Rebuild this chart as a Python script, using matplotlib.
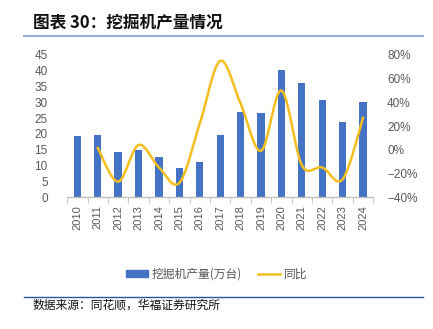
import numpy as np
import matplotlib
matplotlib.use('Agg')
import matplotlib.pyplot as plt
from matplotlib.ticker import FuncFormatter, FixedLocator
from matplotlib.patches import Patch
from matplotlib.lines import Line2D

plt.rcParams['font.family'] = ['Liberation Sans', 'Noto Sans CJK SC', 'DejaVu Sans']
plt.rcParams['axes.unicode_minus'] = True

# 数据
years = ['2010', '2011', '2012', '2013', '2014', '2015', '2016', '2017',
         '2018', '2019', '2020', '2021', '2022', '2023', '2024']
output = [19.3, 19.6, 14.3, 14.9, 12.7, 9.3, 11.0, 19.5,
          26.9, 26.6, 40.1, 36.2, 30.8, 23.8, 30.0]
yoy = [None, 1.5, -27.0, 4.0, -15.0, -28.0, 22.0, 75.0,
       39.0, -1.0, 50.0, -13.0, -15.0, -25.0, 27.0]

bar_color = '#4472C4'
line_color = '#F4BE1E'
gray = '#595959'


def catmull_rom(xs, ys, n=20):
    # Excel 风格的平滑曲线
    px = [xs[0]] + list(xs) + [xs[-1]]
    py = [ys[0]] + list(ys) + [ys[-1]]
    outx, outy = [], []
    for i in range(1, len(px) - 2):
        t = np.linspace(0, 1, n, endpoint=False)
        for p, o in ((px, outx), (py, outy)):
            p0, p1, p2, p3 = p[i - 1], p[i], p[i + 1], p[i + 2]
            o.extend(0.5 * ((2 * p1) + (-p0 + p2) * t
                            + (2 * p0 - 5 * p1 + 4 * p2 - p3) * t ** 2
                            + (-p0 + 3 * p1 - 3 * p2 + p3) * t ** 3))
    outx.append(xs[-1])
    outy.append(ys[-1])
    return outx, outy


fig = plt.figure(figsize=(4.33, 3.29), dpi=100)
ax1 = fig.add_axes([0.155, 0.401, 0.707, 0.432])

x = np.arange(len(years))
ax1.bar(x, output, width=0.36, color=bar_color, zorder=2)
ax1.set_xlim(-0.5, len(years) - 0.5)
ax1.set_ylim(0, 45)
ax1.set_yticks(range(0, 46, 5))

for s in ['top', 'right', 'left']:
    ax1.spines[s].set_visible(False)
ax1.spines['bottom'].set_color('#BFBFBF')
ax1.spines['bottom'].set_linewidth(1.0)

ax1.set_xticks(x)
ax1.set_xticklabels(years, rotation=90)
ax1.xaxis.set_minor_locator(FixedLocator(np.arange(-0.5, len(years), 1)))
ax1.tick_params(axis='x', which='major', length=0, pad=6, labelsize=8, labelcolor=gray)
ax1.tick_params(axis='x', which='minor', length=4, color='#BFBFBF', direction='out')
ax1.tick_params(axis='y', length=0, labelsize=8.5, labelcolor=gray, pad=14)

ax2 = ax1.twinx()
xi = [i for i, v in enumerate(yoy) if v is not None]
yi = [v for v in yoy if v is not None]
sx, sy = catmull_rom(xi, yi)
ax2.plot(sx, sy, color=line_color, linewidth=1.8, zorder=3)
ax2.set_ylim(-40, 80)
ax2.set_yticks(range(-40, 81, 20))
ax2.yaxis.set_major_formatter(FuncFormatter(lambda v, p: f'{v:.0f}%'.replace('-', '\u2212')))
ax2.tick_params(axis='y', length=0, labelsize=8.5, labelcolor=gray, pad=10)
for s in ['top', 'right', 'left', 'bottom']:
    ax2.spines[s].set_visible(False)

# 图例
handles = [Patch(color=bar_color), Line2D([0], [0], color=line_color, lw=1.8)]
fig.legend(handles, ['挖掘机产量(万台)', '同比'], loc='center', bbox_to_anchor=(0.5, 0.167),
           ncol=2, frameon=False, handlelength=1.9, handleheight=0.5,
           columnspacing=1.3, handletextpad=0.3, labelcolor=gray,
           prop={'family': ['Noto Sans CJK SC'], 'size': 8.5})

# 标题与来源
fig.text(0.076, 0.933, '图表 30：挖掘机产量情况', fontsize=12, fontweight='bold',
         family=['Noto Sans CJK SC'], va='center', ha='left', color='#111111')
fig.add_artist(Line2D([0.055, 0.977], [0.891, 0.891], color='#8FAADC', lw=1.4))
fig.add_artist(Line2D([0.055, 0.977], [0.098, 0.098], color='#2F5597', lw=1.0))
fig.text(0.076, 0.074, '数据来源：同花顺，华福证券研究所', fontsize=8.5,
         family=['Noto Sans CJK SC'], va='center', ha='left', color='#111111')

fig.savefig('out.png', dpi=100)
